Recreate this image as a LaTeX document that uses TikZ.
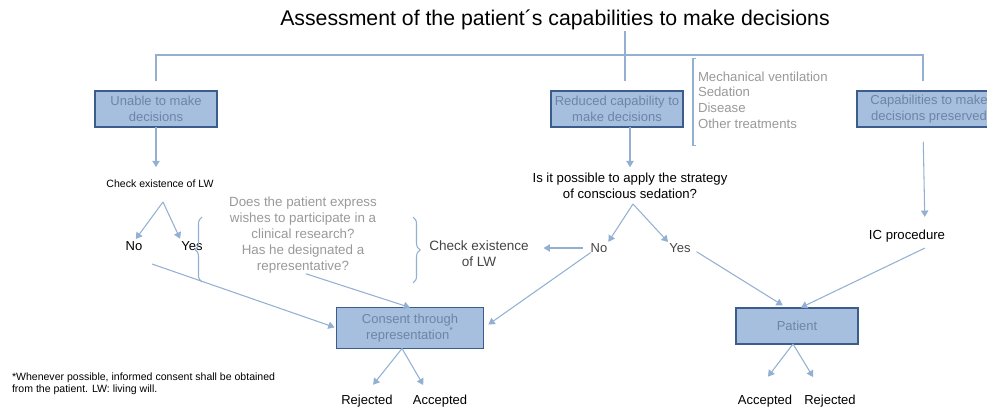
\documentclass[tikz,border=0pt]{standalone}
\usepackage{fontspec}
\setmainfont{Liberation Sans}
\usetikzlibrary{arrows.meta,decorations.pathreplacing}

\definecolor{linkblue}{HTML}{93B0D2}
\definecolor{boxfill}{HTML}{A7BFDE}
\definecolor{boxline}{HTML}{3C5C8B}
\definecolor{boxtext}{HTML}{6E84A6}
\definecolor{greytext}{HTML}{999999}
\definecolor{darktext}{HTML}{444444}

\begin{document}
\begin{tikzpicture}[x=0.02cm, y=-0.02cm, inner sep=0pt, outer sep=0pt,
  main box/.style={draw=boxline, fill=boxfill, line width=1.1pt, text=boxtext,
    align=center, minimum height=0.72cm, font=\fontsize{7.4}{9}\selectfont},
  label text/.style={align=center, font=\fontsize{7.4}{9}\selectfont},
  link/.style={draw=linkblue, line width=0.6pt},
  arr/.style={link, -{Triangle[width=4.2pt,length=3.6pt]}}]
\useasboundingbox (0,0) rectangle (987,408);

% headline and the three levels
\node[font=\fontsize{12.1}{14}\selectfont] (title) at (555,20) {Assessment of the patient´s capabilities to make decisions};
\node[main box, minimum width=2.44cm] (unable)    at (156,109) {Unable to make\\decisions};
\node[main box, minimum width=2.64cm] (reduced)   at (617,109) {Reduced capability to\\make decisions};
\node[main box, minimum width=2.88cm] (preserved) at (929,109) {Capabilities to make\\decisions preserved};
\node[anchor=west, align=left, text=greytext, font=\fontsize{7.5}{8.9}\selectfont] (causes) at (698,100)
  {Mechanical ventilation\\Sedation\\Disease\\Other treatments};
\coordinate (titlefoot) at (625,31);
\coordinate (bus)       at (625,55);

% left branch
\node[font=\fontsize{6}{7}\selectfont] (checklw) at (160,184) {Check existence of LW};
\coordinate (lapex) at (163,202);
\node[label text] (lno)  at (134,246) {No};
\node[label text] (lyes) at (192,246) {Yes};
\node[label text, text=greytext, font=\fontsize{7.6}{9}\selectfont] (query) at (303,235)
  {Does the patient express\\wishes to participate in a\\clinical research?\\Has he designated a\\representative?};
\coordinate (lnofoot) at (152,264);

% middle branch
\node[font=\fontsize{7.5}{9}\selectfont, align=center] (sedation) at (630,186)
  {Is it possible to apply the strategy\\of conscious sedation?};
\coordinate (mapex) at (633,204);
\node[label text, text=darktext] (mno)   at (599,248) {No};
\node[label text, text=darktext] (myes)  at (680,248) {Yes};
\node[label text, text=darktext, font=\fontsize{7.7}{9}\selectfont] (cklw2) at (479,254) {Check existence\\of LW};

% right branch
\node[font=\fontsize{7.5}{8}\selectfont] (icproc) at (907,236) {IC procedure};
\coordinate (icfoot) at (925,248);

% outcomes
\node[main box, minimum width=2.94cm, minimum height=0.82cm] (consent) at (410,328)
  {Consent through\\representation\textsuperscript{*}};
\node[main box, minimum width=2.44cm] (patient) at (797,326) {Patient};
\node[label text] (rej1) at (367,401) {Rejected};
\node[label text] (acc1) at (440,401) {Accepted};
\node[label text] (acc2) at (765,401) {Accepted};
\node[label text] (rej2) at (830,401) {Rejected};
\node[anchor=west, align=left, font=\fontsize{6}{6.8}\selectfont] (footnote) at (12,384)
  {*Whenever possible, informed consent shall be obtained\\from the patient. LW: living will.};

% tree from the headline
\draw[link] (titlefoot) -- ([yshift=0.2cm]titlefoot |- reduced.north);
\draw[link, shorten <=0.2cm, shorten >=0.2cm] (unable.north) |- (bus) -| ([xshift=-0.12cm]preserved.north);
\draw[link] ([shift={(-2,-13)}]causes.north west) -- ++(-3,0) -- ++(0,87) -- ++(3,0);
\draw[link, decorate, decoration={brace, amplitude=4pt}] (202,282) -- (202,217);
\draw[link, decorate, decoration={brace, amplitude=4pt}] (413,217) -- (413,283);

\path
(unable.south) edge[arr, shorten >=0.26cm] (unable.south |- checklw.north)
(lapex)        edge[arr, shorten >=0.06cm] (lno.north)
               edge[arr, shorten >=0.06cm] (lyes.north west)
(lnofoot)      edge[arr, shorten >=0.04cm] (consent.west)
(query.south)  edge[arr, shorten <=0.06cm] (consent.north)
(sedation.north |- reduced.south) edge[arr, shorten >=0.12cm] (sedation.north)
(mapex)        edge[arr, shorten >=0.04cm] (mno.north east)
               edge[arr, shorten >=0.04cm] (myes.north west)
(mno.west)     edge[arr, shorten <=0.16cm, shorten >=0.3cm] (mno.west -| cklw2.east)
(mno.south west) edge[arr, shorten >=0.12cm] (consent.east)
(myes.east)    edge[arr, shorten <=0.14cm, shorten >=0.1cm] ([xshift=-0.2cm]patient.north)
([xshift=-0.12cm]preserved.south) edge[arr, shorten <=0.3cm, shorten >=0.26cm] (icproc.north -| icfoot)
(icfoot)       edge[arr, shorten >=0.02cm] ([xshift=0.06cm]patient.north)
([xshift=-0.16cm]consent.south) edge[arr, shorten >=0.26cm] ([xshift=-0.04cm]rej1.north)
                                edge[arr, shorten >=0.23cm] ([xshift=-0.22cm]acc1.north)
([xshift=-0.08cm]patient.south) edge[arr, shorten >=0.46cm] ([xshift=-0.22cm]acc2.north)
                                edge[arr, shorten >=0.42cm] ([xshift=-0.12cm]rej2.north)
;
\end{tikzpicture}
\end{document}
